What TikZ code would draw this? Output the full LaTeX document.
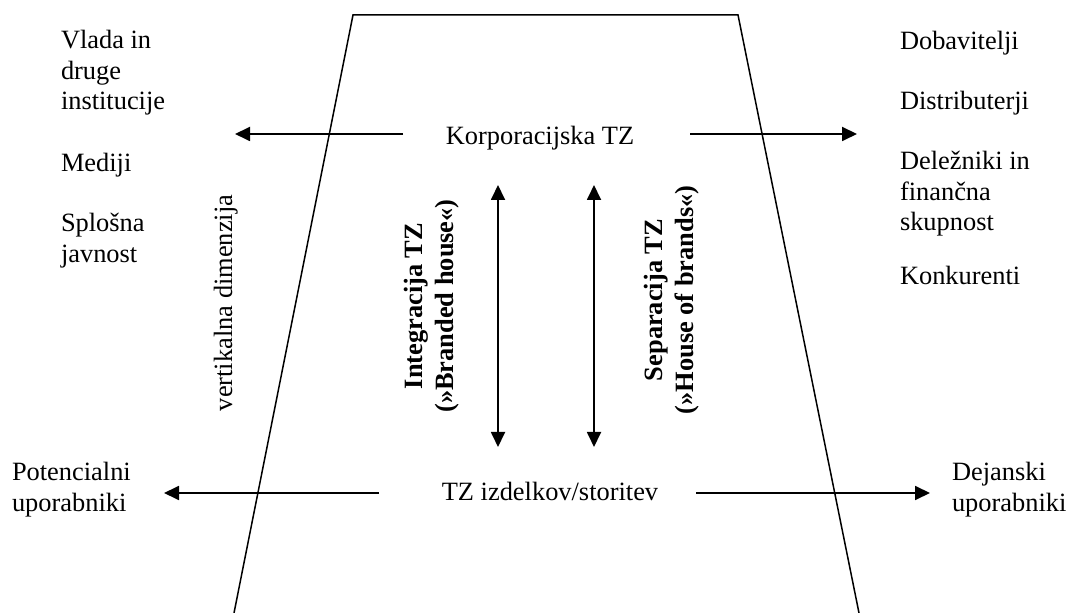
\documentclass[tikz,border=0pt]{standalone}
\usepackage{fontspec}
\setmainfont{Liberation Serif}
\usetikzlibrary{arrows.meta}
\begin{document}
\begin{tikzpicture}[x=0.5pt,y=-0.5pt,
  every node/.style={inner sep=0pt, outer sep=0pt, font=\fontsize{13.2}{15.2}\selectfont},
  group/.style={anchor=north west, align=left},
  single/.style={anchor=base west},
  title/.style={anchor=base},
  turned/.style={rotate=90, align=center, font=\fontsize{13.2}{15.2}\selectfont\bfseries},
  frame/.style={line width=0.75pt, line join=miter},
  tip/.tip={Triangle[length=7.5pt,width=7pt]},
  flow/.style={line width=0.9pt, -tip},
  both/.style={line width=0.9pt, tip-tip}]
\useasboundingbox (0,0) rectangle (1069,613);

% trapezoid outline, open at the bottom
\coordinate (tl) at (353,15);
\coordinate (tr) at (738,15);
\coordinate (bl) at (234,613);
\coordinate (br) at (859,613);
\draw[frame] (bl) -- (tl) -- (tr) -- (br);

% left column of publics
\node[group] (vlada) at (61,27.7) {\strut Vlada in\\druge\\institucije};
\node[single] (mediji) at (61,172) {Mediji};
\node[group] (javnost) at (61,210.7) {\strut Splošna\\javnost};

% right column of publics
\node[single] (dobav) at (900,50) {Dobavitelji};
\node[single] (distr) at (900,110) {Distributerji};
\node[group] (delez) at (900,148.7) {\strut Deležniki in\\finančna\\skupnost};
\node[single] (konk) at (900,285) {Konkurenti};

% bottom publics
\node[group] (potenc) at (12,459.7) {\strut Potencialni\\uporabniki};
\node[group] (dejan) at (952,459.7) {\strut Dejanski\\uporabniki};

% the two levels
\node[title] (korp) at (540,145) {Korporacijska TZ};
\node[title] (izd) at (550,501) {TZ izdelkov/storitev};

% vertical labels
\node[anchor=base, rotate=90] (vert) at (232,303) {vertikalna dimenzija};
\node[turned] (integ) at (432,306) {\strut Integracija TZ\\\strut(»Branded house«)};
\node[turned] (separ) at (672,300) {\strut Separacija TZ\\\strut(»House of brands«)};

% arrow ends
\coordinate (kl0) at (403,134);
\coordinate (kl1) at (235,134);
\coordinate (kr0) at (690,134);
\coordinate (kr1) at (857,134);
\coordinate (il0) at (379,493);
\coordinate (il1) at (164,493);
\coordinate (ir0) at (696,493);
\coordinate (ir1) at (930,493);
\coordinate (a1t) at (498,185);
\coordinate (a1b) at (498,447);
\coordinate (a2t) at (594,185);
\coordinate (a2b) at (594,447);

\draw[flow] (kl0) -- (kl1);
\draw[flow] (kr0) -- (kr1);
\draw[flow] (il0) -- (il1);
\draw[flow] (ir0) -- (ir1);
\draw[both] (a1t) -- (a1b);
\draw[both] (a2t) -- (a2b);
\end{tikzpicture}
\end{document}
